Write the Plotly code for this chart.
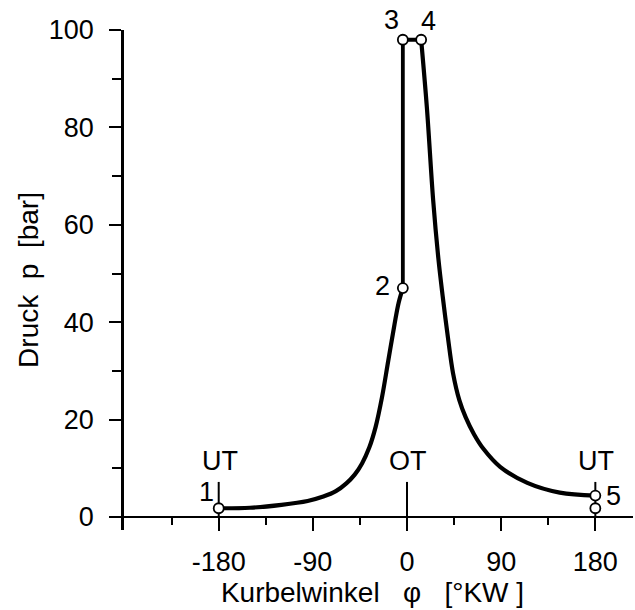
import plotly.graph_objects as go

# ---- data ----
# compression 1 -> 2
comp_x = [-180, -150, -120, -95, -80, -68, -58, -50, -43, -36, -30, -24, -18, -12, -8, -4]
comp_y = [1.8, 1.9, 2.5, 3.3, 4.2, 5.3, 6.9, 8.7, 11.0, 14.3, 18.5, 24.5, 32, 39.5, 44, 47]
# isochoric 2 -> 3 and isobaric 3 -> 4
comb_x = [-4, -4, 13.5]
comb_y = [47, 98, 98]
# expansion 4 -> 5
exp_x = [13.5, 19, 25, 30, 34, 39, 44, 50, 56, 64, 73, 89, 115, 146, 180]
exp_y = [98, 84, 65, 53, 45.5, 37, 29.5, 24, 20.5, 17, 14, 10.3, 7, 5, 4.4]
# state points (open circles)
pt_x = [-180, -4, -4, 13.5, 180, 180]
pt_y = [1.8, 47, 98, 98, 4.4, 1.8]
pt_lab = ["1", "2", "3", "4", "5", ""]
pt_dx = [-12, -20, -11, 7, 18, 0]
pt_dy = [16, 2, 20, 19, 0, 0]
# dead-centre markers
dc_x = [-180, 0, 180]
dc_lab = ["UT", "OT", "UT"]
dc_top = 7.2
dc_lab_y = 11.5

x_major = [-180, -90, 0, 90, 180]
x_minor = [-225, -135, -45, 45, 135]
y_major = [0, 20, 40, 60, 80, 100]
y_minor = [10, 30, 50, 70, 90]

FONT = "Liberation Sans, Arial, sans-serif"
FS = 27
NB = "\u00a0"

fig = go.Figure()

for xv in dc_x:
    fig.add_trace(go.Scatter(x=[xv, xv], y=[0, dc_top], mode="lines",
                             line=dict(color="black", width=2), hoverinfo="skip"))

fig.add_trace(go.Scatter(x=comp_x, y=comp_y, mode="lines",
                         line=dict(color="black", width=4.2, shape="spline", smoothing=1)))
fig.add_trace(go.Scatter(x=comb_x, y=comb_y, mode="lines",
                         line=dict(color="black", width=3.8)))
fig.add_trace(go.Scatter(x=exp_x, y=exp_y, mode="lines",
                         line=dict(color="black", width=4.2, shape="spline", smoothing=1)))
fig.add_trace(go.Scatter(x=pt_x, y=pt_y, mode="markers", cliponaxis=False,
                         marker=dict(size=10, color="white",
                                     line=dict(color="black", width=1.8))))

for xv, yv, t, dx, dy in zip(pt_x, pt_y, pt_lab, pt_dx, pt_dy):
    if t:
        fig.add_annotation(x=xv, y=yv, text=t, showarrow=False, xanchor="center",
                           yanchor="middle", xshift=dx, yshift=dy,
                           font=dict(family=FONT, size=FS, color="black"))
for xv, t in zip(dc_x, dc_lab):
    fig.add_annotation(x=xv, y=dc_lab_y, text=t, showarrow=False, xanchor="center",
                       yanchor="middle", xshift=1,
                       font=dict(family=FONT, size=FS, color="black"))

fig.update_layout(
    width=635, height=610,
    margin=dict(l=112, r=2, t=30, b=80),
    paper_bgcolor="white", plot_bgcolor="white",
    showlegend=False,
    font=dict(family=FONT, size=FS, color="black"),
    xaxis=dict(
        range=[-282, 216], anchor="free", position=0.026,
        showline=True, linecolor="black", linewidth=2,
        showgrid=False, zeroline=False,
        tickmode="array", tickvals=x_major, ticktext=[str(v) for v in x_major],
        ticks="outside", ticklen=13, tickwidth=2, tickcolor="black",
        ticklabelstandoff=8,
        minor=dict(tickmode="array", tickvals=x_minor, ticks="outside",
                   ticklen=7, tickwidth=2, tickcolor="black", showgrid=False),
        title=dict(text="Kurbelwinkel" + NB * 3 + "φ" + NB * 3 + "[°KW" + NB + "]",
                   font=dict(family=FONT, size=28), standoff=1),
    ),
    yaxis=dict(
        range=[-2.67, 100], anchor="free", position=0.0192,
        showline=True, linecolor="black", linewidth=2.5,
        showgrid=False, zeroline=False,
        tickmode="array", tickvals=y_major, ticktext=[str(v) for v in y_major],
        ticks="outside", ticklen=12, tickwidth=2, tickcolor="black",
        ticklabelstandoff=10,
        minor=dict(tickmode="array", tickvals=y_minor, ticks="outside",
                   ticklen=9, tickwidth=2, tickcolor="black", showgrid=False),
        title=dict(text="Druck" + NB * 2 + "p" + NB * 2 + "[bar]",
                   font=dict(family=FONT, size=28), standoff=0),
    ),
)

fig.write_html("out.html")
